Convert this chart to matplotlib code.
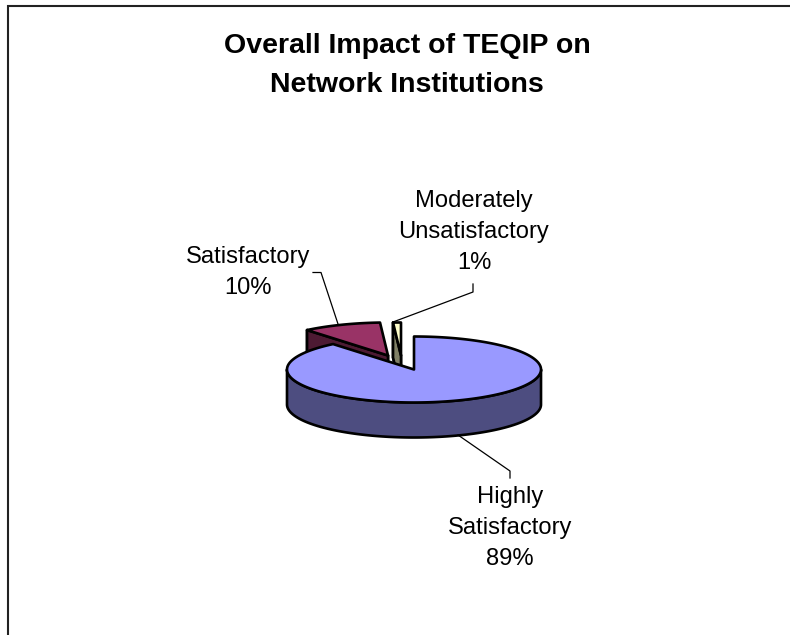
import numpy as np
import matplotlib
matplotlib.use("Agg")
import matplotlib.pyplot as plt
from matplotlib.patches import Polygon

title_lines = ["Overall Impact of TEQIP on", "Network Institutions"]
categories = ["Highly\nSatisfactory", "Satisfactory", "Moderately\nUnsatisfactory"]
values = [89, 10, 1]

top_colors = ["#9999FF", "#993366", "#FFFFCC"]
side_colors = ["#4D4D80", "#4D1A33", "#808066"]
explode = [(0, 0), (-26, -14), (-13, -14)]
label_xy = [(510, 528), (248, 272), (474, 232)]
leaders = [[(510, 478), (510, 471), (458, 435)],
           [(313, 272.5), (321, 272.5), (338, 324)],
           [(473, 284), (473, 292), (393, 322)]]

CX, CY, RX, RY, DEPTH = 414, 369.5, 127, 33, 35

fig = plt.figure(figsize=(7.9, 6.35), dpi=100, facecolor="white")
ax = fig.add_axes([0, 0, 1, 1])
ax.set_xlim(0, 790)
ax.set_ylim(635, 0)
ax.axis("off")

ax.plot([8, 8, 790], [635, 5.5, 5.5], color="#222222", lw=1.5, zorder=1,
        solid_joinstyle="miter")
plt.rcParams["font.family"] = ["Liberation Sans", "DejaVu Sans"]


def rim(a0, a1, dx, dy, drop=0):
    t = np.radians(np.linspace(a0, a1, max(3, int(abs(a1 - a0)) + 2)))
    return np.column_stack([CX + dx + RX * np.sin(t), CY + dy + drop - RY * np.cos(t)])


def draw_wedge(a0, a1, dx, dy, top, side, z):
    apex = np.array([CX + dx, CY + dy])
    edge = rim(a0, a1, dx, dy)
    kw = dict(ec="black", lw=1.9, joinstyle="round", zorder=z)
    # cut face visible on the leading edge
    p = edge[0]
    ax.add_patch(Polygon([p, apex, apex + (0, DEPTH), p + (0, DEPTH)], fc=side, **kw))
    # outer wall, on the part of the rim that faces the viewer
    lo, hi = max(a0, 90), min(a1, 270)
    if lo < hi:
        ax.add_patch(Polygon(np.vstack([rim(lo, hi, dx, dy), rim(lo, hi, dx, dy, DEPTH)[::-1]]),
                             fc=side, **kw))
    else:
        left = edge[np.argmin(edge[:, 0])]
        ax.add_patch(Polygon([left, left + (0, DEPTH), apex + (0, DEPTH), apex], fc=side, **kw))
    ax.add_patch(Polygon(np.vstack([apex, edge]), fc=top, **kw))


angles = np.cumsum([0] + values) / sum(values) * 360
order = [1, 2, 0]
for z, i in enumerate(order):
    draw_wedge(angles[i], angles[i + 1], *explode[i], top_colors[i], side_colors[i], 3 + z)

for pts in leaders:
    ax.plot(*zip(*pts), color="black", lw=0.9, zorder=8)

for name, v, (x, y) in zip(categories, values, label_xy):
    lines = name.split("\n") + [f"{v}%"]
    y0 = y - (len(lines) - 1) * 31 / 2
    for k, line in enumerate(lines):
        ax.text(x, y0 + k * 31, line, ha="center", va="center", fontsize=17.1, color="black")

for k, line in enumerate(title_lines):
    ax.text(407, 46 + k * 39, line, ha="center", va="center", fontsize=20.5,
            fontweight="bold", color="black")

fig.savefig("out.png", dpi=100, facecolor="white")
